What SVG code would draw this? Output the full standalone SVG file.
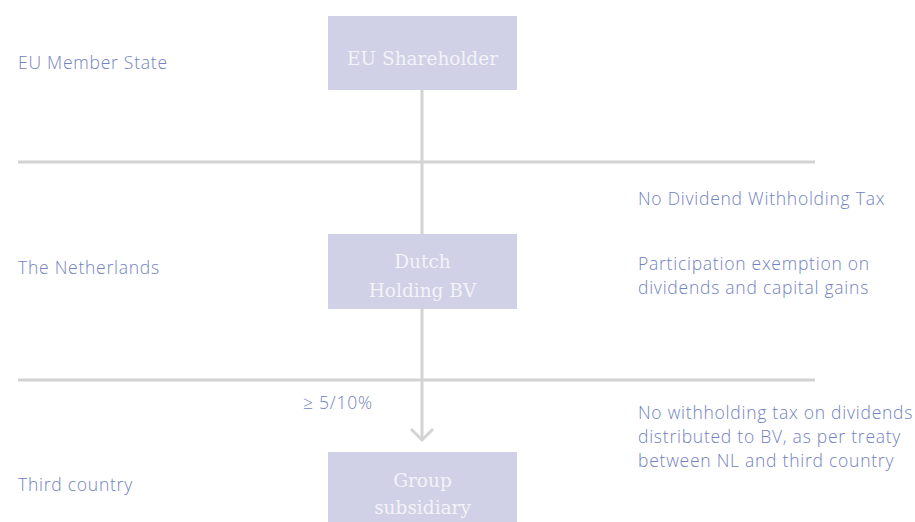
<svg xmlns="http://www.w3.org/2000/svg" width="915" height="522" viewBox="0 0 915 522">
<style>
.box{fill:#d0d0e6}
.bt{font-family:"DejaVu Serif","Liberation Serif",serif;font-size:18.5px;fill:#f3f3f8;text-anchor:middle}
.lt{font-family:"Open Sans","Liberation Sans",sans-serif;font-size:17.5px;letter-spacing:0.75px;fill:#7282c2;font-weight:300}
.sep{stroke:#d3d3d3;stroke-width:3}
.con{stroke:#d3d3d3;stroke-width:3;fill:none}
</style>
<rect width="915" height="522" fill="#ffffff"/>
<g id="separators">
<line class="sep" x1="18" y1="162" x2="815" y2="162"/>
<line class="sep" x1="18" y1="380" x2="815" y2="380"/>
</g>
<g id="connectors">
<line class="con" x1="422" y1="90" x2="422" y2="234"/>
<line class="con" x1="422" y1="309" x2="422" y2="440"/>
<polyline class="con" points="411,429 422,440 433,429"/>
</g>
<g id="eu-shareholder">
<rect class="box" x="328" y="16" width="189" height="74"/>
<text class="bt" x="422.5" y="65">EU Shareholder</text>
</g>
<g id="dutch-holding">
<rect class="box" x="328" y="234" width="189" height="75"/>
<text class="bt" x="422.5" y="268">Dutch</text>
<text class="bt" x="422.5" y="297">Holding BV</text>
</g>
<g id="group-subsidiary">
<rect class="box" x="328" y="452" width="189" height="70"/>
<text class="bt" x="422.5" y="487">Group</text>
<text class="bt" x="422.5" y="514">subsidiary</text>
</g>
<g id="labels">
<text class="lt" x="18" y="69">EU Member State</text>
<text class="lt" x="18" y="274">The Netherlands</text>
<text class="lt" x="18" y="491">Third country</text>
<text class="lt" x="303" y="409">≥ 5/10%</text>
<text class="lt" x="638" y="205">No Dividend Withholding Tax</text>
<text class="lt" x="638" y="270">Participation exemption on</text>
<text class="lt" x="638" y="294">dividends and capital gains</text>
<text class="lt" x="638" y="419">No withholding tax on dividends</text>
<text class="lt" x="638" y="443">distributed to BV, as per treaty</text>
<text class="lt" x="638" y="467">between NL and third country</text>
</g>
</svg>
